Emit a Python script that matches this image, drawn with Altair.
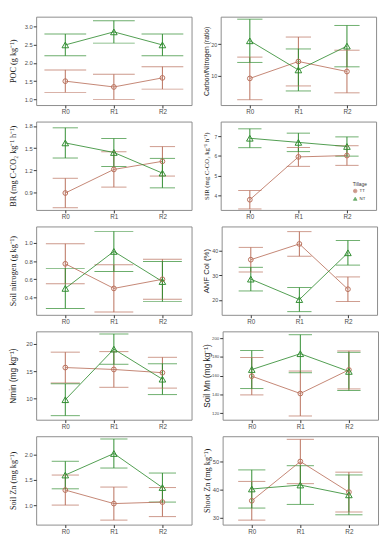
import altair as alt
import pandas as pd

residues = ["R0", "R1", "R2"]
tillage = ["TT", "NT"]

poc_tt = [1.50, 1.34, 1.59]
poc_tt_err = [0.31, 0.35, 0.31]
poc_nt = [2.50, 2.86, 2.50]
poc_nt_err = [0.30, 0.31, 0.30]

cn_tt = [9.1, 14.5, 11.3]
cn_tt_err = [6.8, 7.8, 6.8]
cn_nt = [21.1, 11.8, 19.4]
cn_nt_err = [6.9, 6.7, 6.6]

br_tt = [0.89, 1.21, 1.32]
br_tt_err = [0.20, 0.24, 0.20]
br_nt = [1.57, 1.44, 1.16]
br_nt_err = [0.205, 0.19, 0.20]

sir_tt = [3.77, 5.95, 6.02]
sir_tt_err = [0.47, 0.48, 0.50]
sir_nt = [6.90, 6.69, 6.48]
sir_nt_err = [0.48, 0.47, 0.49]

sn_tt = [0.77, 0.50, 0.60]
sn_tt_err = [0.22, 0.26, 0.22]
sn_nt = [0.50, 0.906, 0.575]
sn_nt_err = [0.22, 0.22, 0.22]

amf_tt = [36.3, 42.7, 24.3]
amf_tt_err = [5.0, 5.0, 5.0]
amf_nt = [28.4, 20.1, 39.1]
amf_nt_err = [4.8, 4.9, 5.0]

nmin_tt = [15.65, 15.3, 14.7]
nmin_tt_err = [2.85, 3.3, 2.85]
nmin_nt = [9.7, 19.06, 13.5]
nmin_nt_err = [2.95, 2.8, 2.85]

mn_tt = [159.5, 141.0, 166.2]
mn_tt_err = [20.0, 24.0, 20.3]
mn_nt = [166.6, 183.5, 164.6]
mn_nt_err = [20.3, 20.3, 20.4]

szn_tt = [1.30, 1.03, 1.06]
szn_tt_err = [0.30, 0.33, 0.29]
szn_nt = [1.60, 2.03, 1.35]
szn_nt_err = [0.275, 0.29, 0.29]

shzn_tt = [36.0, 50.0, 39.1]
shzn_tt_err = [6.9, 7.9, 7.1]
shzn_nt = [40.2, 41.6, 38.1]
shzn_nt_err = [6.8, 6.9, 7.1]

TT_COLOR = "#b86e5a"
NT_COLOR = "#2e8b2e"
SERIF = "Liberation Serif"
SANS = "Liberation Sans"
W, H = 160, 91


def make_legend(show):
    if not show:
        return None
    return alt.Legend(orient="none", legendX=136, legendY=62,
                      title="Tillage", titleFontSize=5,
                      titleFontWeight="normal", titleFont=SANS,
                      labelFontSize=4.5, labelFont=SANS,
                      symbolSize=14, symbolStrokeWidth=0.8,
                      rowPadding=1, titlePadding=2, labelOffset=2,
                      padding=0, labelColor="#333333", titleColor="#333333")


def panel(title, tt, tt_err, nt, nt_err, domain, ticks, fmt, font, tsize,
          lsize, cap, extent, show_legend=False):
    rows = []
    for name, m, e in (("TT", tt, tt_err), ("NT", nt, nt_err)):
        for r, mv, ev in zip(residues, m, e):
            rows.append({"Residue": r, "Tillage": name, "mean": mv,
                         "lo": mv - ev, "hi": mv + ev})
    df = pd.DataFrame(rows)
    xenc = alt.X("Residue:N", sort=residues,
                 scale=alt.Scale(type="point", padding=0.6),
                 axis=alt.Axis(title=None, labelAngle=0, labelFontSize=6.5,
                               labelColor="#4d4d4d", labelFont=SANS,
                               tickSize=3, tickColor="#333333",
                               labelPadding=1, domain=False, grid=False))
    leg = make_legend(show_legend)
    cenc = alt.Color("Tillage:N",
                     scale=alt.Scale(domain=tillage, range=[TT_COLOR, NT_COLOR]),
                     legend=leg)
    senc = alt.Shape("Tillage:N",
                     scale=alt.Scale(domain=tillage,
                                     range=["circle", "triangle-up"]),
                     legend=leg)
    yscale = alt.Scale(domain=domain, nice=False, zero=False)
    yaxis = alt.Axis(values=ticks, format=fmt, labelFontSize=lsize,
                     labelColor="#4d4d4d", labelFont=SANS, tickSize=3,
                     tickColor="#333333", labelPadding=1, domain=False,
                     grid=False, titleFont=font, titleFontSize=tsize,
                     titleFontWeight="normal", titleColor="#1a1a1a",
                     titlePadding=2, minExtent=extent, maxExtent=extent)

    def yq(field):
        return alt.Y(field + ":Q", scale=yscale, axis=yaxis, title=title)

    base = alt.Chart(df).encode(x=xenc, color=cenc)
    rule = base.mark_rule(strokeWidth=1).encode(y=yq("lo"), y2="hi:Q")
    caps_lo = base.mark_tick(size=cap, thickness=1).encode(y=yq("lo"))
    caps_hi = base.mark_tick(size=cap, thickness=1).encode(y=yq("hi"))
    line = base.mark_line(strokeWidth=1, opacity=0.85).encode(
        y=yq("mean"), detail="Tillage:N")
    pts_tt = base.transform_filter(alt.datum.Tillage == "TT").mark_point(
        filled=False, strokeWidth=1, opacity=1, size=24
    ).encode(y=yq("mean"), shape=senc)
    pts_nt = base.transform_filter(alt.datum.Tillage == "NT").mark_point(
        filled=False, strokeWidth=1, opacity=1, size=46
    ).encode(y=yq("mean"), shape=senc)
    return alt.layer(rule, caps_lo, caps_hi, line, pts_tt, pts_nt).properties(
        width=W, height=H)


p_poc = panel("POC (g kg⁻¹)", poc_tt, poc_tt_err, poc_nt, poc_nt_err,
              [0.84, 3.28], [1.0, 1.5, 2.0, 2.5, 3.0], ".1f", SERIF, 8.5, 6,
              43, 17)
p_cn = panel("Carbon/Nitrogen (ratio)", cn_tt, cn_tt_err, cn_nt, cn_nt_err,
             [0.6, 28.8], [10, 20], "d", SANS, 7, 5.5, 26, 10)
p_br = panel("BR (mg C-CO₂ kg⁻¹ h⁻¹)", br_tt, br_tt_err, br_nt, br_nt_err,
             [0.66, 1.86], [0.9, 1.2, 1.5, 1.8], ".1f", SERIF, 8.5, 6, 26, 17)
p_sir = panel("SIR (mg C-CO₂ kg⁻¹ h⁻¹)", sir_tt, sir_tt_err, sir_nt,
              sir_nt_err, [3.25, 7.75], [4, 5, 6, 7], "d", SERIF, 7, 5,
              24, 10, show_legend=True)
p_sn = panel("Soil nitrogen (g kg⁻¹)", sn_tt, sn_tt_err, sn_nt, sn_nt_err,
             [0.21, 1.18], [0.4, 0.6, 0.8, 1.0], ".1f", SERIF, 8.5, 6, 40, 17)
p_amf = panel("AMF Col (%)", amf_tt, amf_tt_err, amf_nt, amf_nt_err,
              [13.9, 49.8], [20, 30, 40], "d", SANS, 8, 5.5, 25, 10)
p_nmin = panel("Nmin (mg kg⁻¹)", nmin_tt, nmin_tt_err, nmin_nt, nmin_nt_err,
               [6.0, 22.35], [10, 15, 20], "d", SANS, 8.5, 6, 30, 17)
p_mn = panel("Soil Mn (mg kg⁻¹)", mn_tt, mn_tt_err, mn_nt, mn_nt_err,
             [113, 207.4], [120, 140, 160, 180, 200], "d", SANS, 8.5, 4.5,
             24, 10)
p_szn = panel("Soil Zn (mg kg⁻¹)", szn_tt, szn_tt_err, szn_nt, szn_nt_err,
              [0.61, 2.375], [1.0, 1.5, 2.0], ".1f", SERIF, 8.5, 6, 28, 17)
p_shzn = panel("Shoot Zn (mg kg⁻¹)", shzn_tt, shzn_tt_err, shzn_nt,
               shzn_nt_err, [27.5, 59], [30, 40, 50], "d", SERIF, 8.5, 6,
               28, 10)

rows = [(p_poc, p_cn), (p_br, p_sir), (p_sn, p_amf), (p_nmin, p_mn),
        (p_szn, p_shzn)]
row_charts = [
    alt.hconcat(a, b, spacing=9).resolve_legend(
        color="independent", shape="independent")
    for a, b in rows
]
chart = alt.vconcat(*row_charts, spacing=5).resolve_legend(
    color="independent", shape="independent"
).properties(padding=0, background="white").configure_view(
    stroke="#8a8a8a", strokeWidth=1
)

chart.save("out.html", embed_options={"renderer": "svg", "actions": False})
